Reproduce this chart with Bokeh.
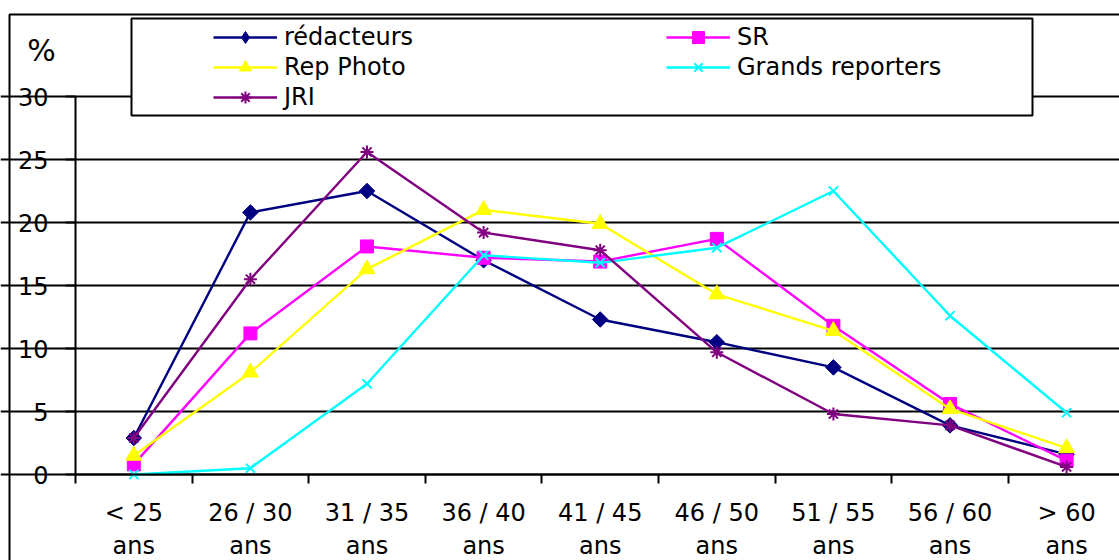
from bokeh.plotting import figure
from bokeh.models import (Range1d, FixedTicker, Legend, LegendItem, Label, BoxAnnotation)
from bokeh.embed import file_html
from bokeh.resources import INLINE

categories = ["< 25\nans", "26 / 30\nans", "31 / 35\nans", "36 / 40\nans", "41 / 45\nans",
              "46 / 50\nans", "51 / 55\nans", "56 / 60\nans", "> 60\nans"]
redacteurs = [2.9, 20.8, 22.5, 17.0, 12.3, 10.5, 8.5, 3.9, 1.6]
sr = [0.8, 11.2, 18.1, 17.2, 16.9, 18.7, 11.8, 5.6, 1.1]
rep_photo = [1.5, 8.1, 16.3, 21.0, 19.9, 14.3, 11.4, 5.2, 2.1]
grands_reporters = [0.0, 0.5, 7.2, 17.4, 16.8, 18.0, 22.5, 12.6, 4.9]
jri = [2.9, 15.5, 25.6, 19.2, 17.8, 9.7, 4.8, 3.9, 0.6]
y_ticks = [0, 5, 10, 15, 20, 25, 30]

FONT = "DejaVu Sans"
W, H = 1119, 560

# pixel geometry of the plotting area (canvas pixels)
X_LEFT_PX, CAT_PX = 75, 116.6
Y0_PX, Y_UNIT_PX = 474, 12.6


def px_to_x(px):
    return -0.5 + (px - X_LEFT_PX) / CAT_PX


def px_to_y(py):
    return (Y0_PX - py) / Y_UNIT_PX


xs = list(range(len(categories)))

p = figure(width=W, height=H, output_backend="svg", toolbar_location=None,
           x_range=Range1d(px_to_x(0), px_to_x(W)), y_range=Range1d(px_to_y(H), px_to_y(0)),
           min_border_left=0, min_border_right=0, min_border_top=0, min_border_bottom=0)
p.outline_line_color = None
p.background_fill_color = "white"
p.border_fill_color = "white"

# grid
p.xgrid.visible = False
p.ygrid.ticker = FixedTicker(ticks=y_ticks)
p.ygrid.bounds = (-0.5, px_to_x(W + 5))
p.ygrid.grid_line_color = "black"
p.ygrid.grid_line_width = 2

# y axis
ya = p.yaxis[0]
ya.fixed_location = -0.5
ya.bounds = (0, 30)
ya.ticker = FixedTicker(ticks=y_ticks)
ya.axis_line_width = 2
ya.axis_line_color = "black"
ya.major_tick_line_width = 2
ya.major_tick_out = 10
ya.major_tick_in = 0
ya.minor_tick_line_color = None
ya.major_label_standoff = 17
ya.major_label_text_font = FONT
ya.major_label_text_font_size = "24px"
ya.major_label_text_color = "black"

# x axis
xa = p.xaxis[0]
xa.fixed_location = 0
xa.bounds = (-0.5, px_to_x(W + 5))
xa.ticker = FixedTicker(ticks=xs, minor_ticks=[i - 0.5 for i in range(len(categories) + 1)])
xa.major_label_overrides = {i: c for i, c in zip(xs, categories)}
xa.axis_line_width = 2
xa.axis_line_color = "black"
xa.major_tick_out = 0
xa.major_tick_in = 0
xa.major_tick_line_color = None
xa.minor_tick_out = 9
xa.minor_tick_in = 0
xa.minor_tick_line_width = 2
xa.minor_tick_line_color = "black"
xa.major_label_standoff = 15
xa.major_label_text_font = FONT
xa.major_label_text_font_size = "24px"
xa.major_label_text_line_height = 1.2
xa.major_label_text_color = "black"

# outer chart border
p.add_layout(BoxAnnotation(left=px_to_x(9), right=px_to_x(W + 20), top=px_to_y(14), bottom=px_to_y(H + 20),
                           fill_alpha=0, line_color="black", line_alpha=1, line_width=2,
                           level="annotation"))
# legend box
p.add_layout(BoxAnnotation(left=px_to_x(131), right=px_to_x(1032), top=px_to_y(18), bottom=px_to_y(115),
                           fill_color="white", fill_alpha=1, line_color="black", line_alpha=1,
                           line_width=2, level="annotation"))

series = [
    ("rédacteurs", redacteurs, "#000080", "square", 11, 0.785398),
    ("SR", sr, "#FF00FF", "square", 13, 0),
    ("Rep Photo", rep_photo, "#FFFF00", "triangle", 16, 0),
    ("Grands reporters", grands_reporters, "#00FFFF", "x", 13, 0),
    ("JRI", jri, "#800080", "asterisk", 13, 0),
]

items = []
for name, vals, color, marker, size, ang in series:
    lr = p.line(xs, vals, line_color=color, line_width=2.4)
    sr_ = p.scatter(xs, vals, marker=marker, size=size, angle=ang, fill_color=color,
                    line_color=color, line_width=2 if marker in ("x", "asterisk") else 1)
    rends = [lr, sr_]
    if ang:
        # diamond shape for the legend swatch (rotation is not applied in legends)
        dr = p.scatter(xs, vals, marker="diamond", size=0, fill_color=color, line_color=color,
                       line_width=1)
        rends = [lr, dr]
    items.append(LegendItem(label=name, renderers=rends))

legend = Legend(items=items, orientation="horizontal", ncols=2,
                location=(213, H - 112),
                glyph_width=64, glyph_height=30, label_height=30, label_width=382,
                label_standoff=7, spacing=0, padding=0, margin=0,
                border_line_alpha=0, background_fill_alpha=0,
                label_text_font=FONT, label_text_font_size="24px", label_text_color="black")
p.add_layout(legend, "center")

p.add_layout(Label(x=px_to_x(41), y=px_to_y(50), text="%", text_align="center",
                   text_baseline="middle", text_font=FONT, text_font_size="30px",
                   text_color="black"))

open("out.html", "w").write(file_html(p, INLINE))
